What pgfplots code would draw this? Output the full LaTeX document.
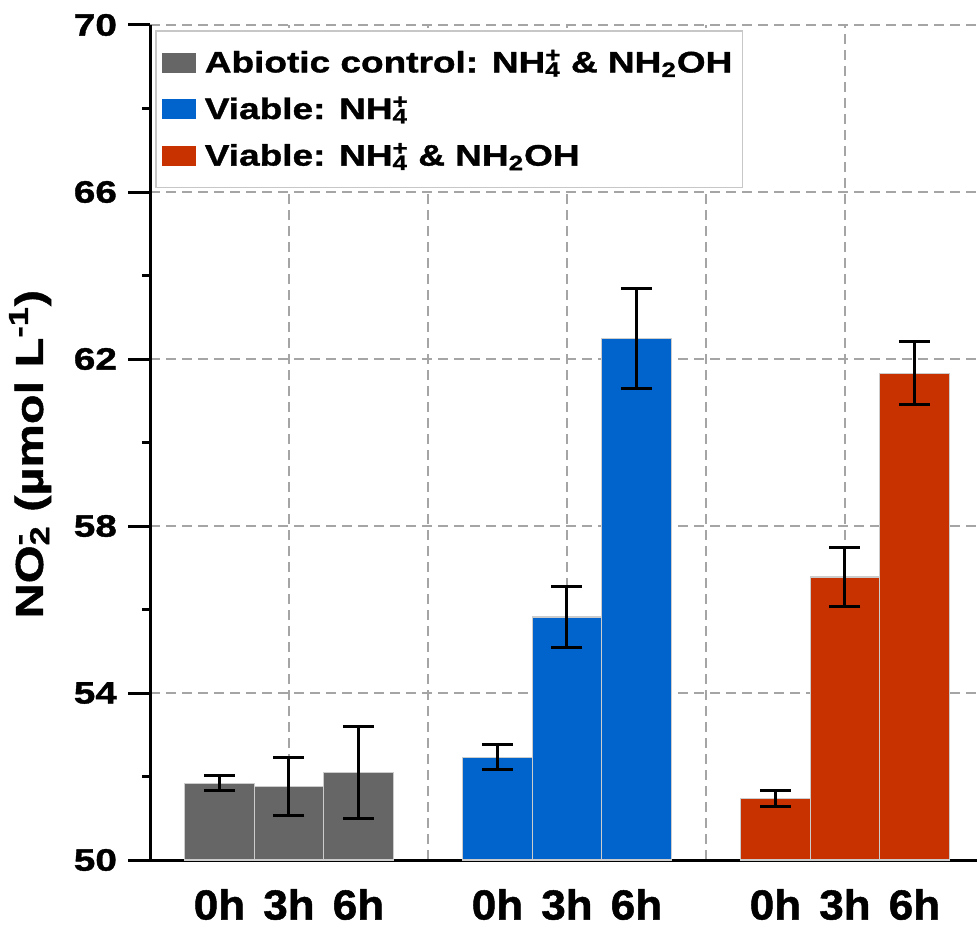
\documentclass[border=0pt]{standalone}
\usepackage{fontspec}
\setmainfont{Liberation Sans}[BoldFeatures={FakeStretch=1.25, FakeBold=1.2}]
\newfontfamily\xfont{Liberation Sans}[BoldFeatures={FakeStretch=1.05, FakeBold=1.2}]
\usepackage{pgfplots}
\pgfplotsset{compat=1.18}
\definecolor{cgray}{RGB}{102,102,102}
\definecolor{cblue}{RGB}{0,100,204}
\definecolor{cred}{RGB}{200,50,0}
\definecolor{gridc}{RGB}{165,165,165}
\newcommand{\subsup}[2]{\rlap{\textsuperscript{#2}}\textsubscript{#1}}
\begin{document}
\begin{tikzpicture}
\begin{axis}[
  name=ax, set layers,
  scale only axis, width=413.5pt, height=417.5pt,
  xmin=0, xmax=5.95, ymin=50, ymax=70,
  axis x line*=bottom, axis y line*=left,
  axis line style={line width=1.5pt, -, black},
  ytick={50,54,...,70}, minor y tick num=1,
  tick align=outside, major tick length=11pt, minor tick length=4pt,
  tick style={line width=1.5pt, black},
  ymajorgrids,
  grid style={gridc, line width=0.8pt, dash pattern=on 5pt off 3pt},
  xtick={0.5,1,1.5,2.5,3,3.5,4.5,5,5.5},
  xticklabels={0h,3h,6h,0h,3h,6h,0h,3h,6h},
  x tick style={draw=none},
  extra x ticks={0,1,2,3,4,5},
  extra x tick labels={},
  extra x tick style={major tick length=7.5pt, grid=major, tick style={draw=black, line width=1.5pt}},
  /pgf/number format/assume math mode=true,
  yticklabel style={font=\bfseries\fontsize{15.5}{17}\selectfont, xshift=-2pt},
  xticklabel style={font=\xfont\bfseries\fontsize{21}{23}\selectfont, yshift=0pt},
  ylabel={NO\subsup{2}{-} (µmol L\textsuperscript{-1})},
  every axis y label/.style={at={(axis description cs:-0.145,0.486)}, anchor=center, rotate=90,
    font=\bfseries\fontsize{19.5}{22}\selectfont},
  ybar, bar width=0.5, bar shift=0pt,
  axis on top=false,
  legend cell align=left,
  legend style={at={(rel axis cs:0,1)}, anchor=north west, xshift=2.5pt, yshift=-2.5pt,
    draw=black!22, line width=0.8pt, font=\bfseries\fontsize{14.8}{18}\selectfont,
    row sep=6.5pt, inner xsep=3pt, inner ysep=7.5pt,
    /tikz/every odd column/.append style={column sep=2.5pt}},
  legend image code/.code={\fill[#1, draw=none] (0.5pt,-5pt) rectangle (17.5pt,5pt);},
]
\addplot[fill=cgray, draw=white!80!black, line width=0.6pt,
  error bars/.cd, y dir=both, y explicit,
  error bar style={line width=1.5pt, black},
  error mark options={rotate=90, mark size=7.75pt, line width=1.5pt, black}]
  coordinates {(0.5,51.84) +- (0,0.18) (1,51.76) +- (0,0.69) (1.5,52.10) +- (0,1.10)};
\addplot[fill=cblue, draw=white!80!black, line width=0.6pt,
  error bars/.cd, y dir=both, y explicit,
  error bar style={line width=1.5pt, black},
  error mark options={rotate=90, mark size=7.75pt, line width=1.5pt, black}]
  coordinates {(2.5,52.46) +- (0,0.30) (3,55.82) +- (0,0.74) (3.5,62.50) +- (0,1.20)};
\addplot[fill=cred, draw=white!80!black, line width=0.6pt,
  error bars/.cd, y dir=both, y explicit,
  error bar style={line width=1.5pt, black},
  error mark options={rotate=90, mark size=7.75pt, line width=1.5pt, black}]
  coordinates {(4.5,51.48) +- (0,0.19) (5,56.78) +- (0,0.70) (5.5,61.66) +- (0,0.75)};
\legend{Abiotic control: NH\subsup{4}{+} \& NH\textsubscript{2}OH, Viable: NH\subsup{4}{+}, Viable: NH\subsup{4}{+} \& NH\textsubscript{2}OH}
\end{axis}
\pgfresetboundingbox
\path ([shift={(-75pt,-34pt)}]ax.south west) rectangle ([shift={(413.5pt,430pt)}]ax.south west);
\end{tikzpicture}
\end{document}
